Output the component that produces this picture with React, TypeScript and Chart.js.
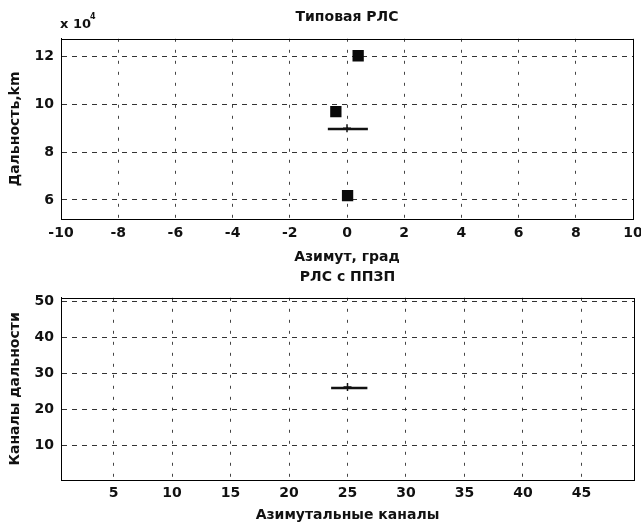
import React, { useEffect, useRef } from "react";
import { Chart, registerables } from "chart.js";

Chart.register(...registerables);

// ---------- Top plot: "Типовая РЛС" ----------
const TOP_TITLE = "Типовая РЛС";
const TOP_X_LABEL = "Азимут, град";
const TOP_Y_LABEL = "Дальность,km";
const TOP_X_TICKS = [-10, -8, -6, -4, -2, 0, 2, 4, 6, 8, 10];
const TOP_Y_TICKS = [60000, 80000, 100000, 120000];
const TOP_TARGET_AZ = [0.39, -0.39, 0.02];
const TOP_TARGET_RANGE = [120400, 97000, 61800];
const TOP_STREAK_AZ = [-0.67, 0.73];
const TOP_STREAK_RANGE = [89700, 89700];
const TOP_CENTER_AZ = [0.0];
const TOP_CENTER_RANGE = [90000];

// ---------- Bottom plot: "РЛС с ППЗП" ----------
const BOT_TITLE = "РЛС с ППЗП";
const BOT_X_LABEL = "Азимутальные каналы";
const BOT_Y_LABEL = "Каналы дальности";
const BOT_X_TICKS = [5, 10, 15, 20, 25, 30, 35, 40, 45];
const BOT_Y_TICKS = [10, 20, 30, 40, 50];
const BOT_STREAK_AZ = [23.6, 26.7];
const BOT_STREAK_RANGE = [26, 26];
const BOT_CENTER_AZ = [25];
const BOT_CENTER_RANGE = [26.3];

const FONT = "'DejaVu Sans', 'Liberation Sans', Arial, sans-serif";
const INK = "#111111";

const boxPlugin = {
  id: "box",
  afterDraw(chart: any) {
    const { ctx, chartArea } = chart;
    ctx.save();
    ctx.strokeStyle = "#000";
    ctx.lineWidth = 1;
    ctx.setLineDash([]);
    ctx.strokeRect(
      Math.round(chartArea.left) + 0.5,
      Math.round(chartArea.top) + 0.5,
      Math.round(chartArea.right - chartArea.left),
      Math.round(chartArea.bottom - chartArea.top)
    );
    const mult = chart.options.plugins.multiplier;
    if (mult && mult.show) {
      ctx.fillStyle = INK;
      ctx.font = `bold 13px ${FONT}`;
      ctx.textBaseline = "alphabetic";
      ctx.textAlign = "left";
      ctx.fillText("x 10", chartArea.left - 1, 28);
      ctx.font = `bold 8px ${FONT}`;
      ctx.fillText("4", chartArea.left + 29, 19);
    }
    ctx.restore();
  },
};

function pts(xs: number[], ys: number[]) {
  return xs.map((x, i) => ({ x, y: ys[i] }));
}

type Cfg = {
  title: string;
  titlePad: { top: number; bottom: number };
  xLabel: string;
  yLabel: string;
  xMin: number;
  xMax: number;
  yMin: number;
  yMax: number;
  xTicks: number[];
  yTicks: number[];
  xHeight: number;
  xTickPad: number;
  xTitlePadBottom: number;
  yFmt: (v: number) => string;
  datasets: any[];
  multiplier: boolean;
};

function makeConfig(c: Cfg): any {
  return {
    type: "scatter",
    data: { datasets: c.datasets },
    plugins: [boxPlugin],
    options: {
      animation: false,
      responsive: false,
      maintainAspectRatio: false,
      events: [],
      layout: { padding: { left: 0, right: 7, top: 0, bottom: 0 } },
      plugins: {
        legend: { display: false },
        tooltip: { enabled: false },
        multiplier: { show: c.multiplier },
        title: {
          display: true,
          fullSize: false,
          text: c.title,
          color: INK,
          font: { family: FONT, size: 14, weight: "bold", lineHeight: 1.2 },
          padding: c.titlePad,
        },
      },
      scales: {
        x: {
          type: "linear",
          min: c.xMin,
          max: c.xMax,
          afterBuildTicks: (s: any) => {
            s.ticks = c.xTicks.map((v) => ({ value: v }));
          },
          afterFit: (s: any) => {
            s.height = c.xHeight;
            s.paddingLeft = 0;
            s.paddingRight = 0;
          },
          ticks: {
            color: INK,
            font: { family: FONT, size: 14, weight: "bold" },
            padding: c.xTickPad,
            maxRotation: 0,
            autoSkip: false,
          },
          grid: { color: "#444", lineWidth: 1, drawTicks: false },
          border: { display: true, color: "#000", dash: [3, 8] },
          title: {
            display: true,
            text: c.xLabel,
            color: INK,
            font: { family: FONT, size: 14, weight: "bold", lineHeight: 1.2 },
            padding: { top: 0, bottom: c.xTitlePadBottom },
          },
        },
        y: {
          type: "linear",
          min: c.yMin,
          max: c.yMax,
          afterBuildTicks: (s: any) => {
            s.ticks = c.yTicks.map((v) => ({ value: v }));
          },
          afterFit: (s: any) => {
            s.width = 61;
            s.paddingTop = 0;
            s.paddingBottom = 0;
          },
          ticks: {
            color: INK,
            font: { family: FONT, size: 14, weight: "bold" },
            padding: 7,
            autoSkip: false,
            callback: (v: any) => c.yFmt(Number(v)),
          },
          grid: { color: "#333", lineWidth: 1, drawTicks: false },
          border: { display: true, color: "#000", dash: [5, 5] },
          title: {
            display: true,
            text: c.yLabel,
            color: INK,
            font: { family: FONT, size: 14, weight: "bold", lineHeight: 1.2 },
            padding: { top: 7, bottom: 0 },
          },
        },
      },
    },
  };
}

function ChartCanvas({ config, width, height, top }: { config: any; width: number; height: number; top: number }) {
  const ref = useRef<HTMLCanvasElement | null>(null);
  useEffect(() => {
    if (!ref.current) return;
    const chart = new Chart(ref.current, config);
    return () => chart.destroy();
  }, []);
  return (
    <canvas
      ref={ref}
      width={width}
      height={height}
      style={{ position: "absolute", left: 0, top, width, height }}
    />
  );
}

export default function App() {
  const topConfig = makeConfig({
    title: TOP_TITLE,
    titlePad: { top: 9, bottom: 13 },
    xLabel: TOP_X_LABEL,
    yLabel: TOP_Y_LABEL,
    xMin: -10,
    xMax: 10,
    yMin: 52000,
    yMax: 127500,
    xTicks: TOP_X_TICKS,
    yTicks: TOP_Y_TICKS,
    xHeight: 49,
    xTickPad: 6,
    xTitlePadBottom: 2,
    yFmt: (v) => String(Math.round(v / 10000)),
    multiplier: true,
    datasets: [
      {
        label: "Цели",
        data: pts(TOP_TARGET_AZ, TOP_TARGET_RANGE),
        pointStyle: "rect",
        pointRadius: 8,
        backgroundColor: "#0a0a0a",
        borderColor: "#0a0a0a",
        borderWidth: 0,
      },
      {
        label: "Отклик",
        type: "line",
        data: pts(TOP_STREAK_AZ, TOP_STREAK_RANGE),
        showLine: true,
        borderColor: "#111",
        borderWidth: 2.5,
        pointRadius: 0,
      },
      {
        label: "Центр",
        data: pts(TOP_CENTER_AZ, TOP_CENTER_RANGE),
        pointStyle: "cross",
        pointRadius: 4,
        borderColor: "#111",
        borderWidth: 1.5,
      },
    ],
  });

  const botConfig = makeConfig({
    title: BOT_TITLE,
    titlePad: { top: 1, bottom: 12 },
    xLabel: BOT_X_LABEL,
    yLabel: BOT_Y_LABEL,
    xMin: 0.5,
    xMax: 49.5,
    yMin: 0.5,
    yMax: 51,
    xTicks: BOT_X_TICKS,
    yTicks: BOT_Y_TICKS,
    xHeight: 44,
    xTickPad: 5,
    xTitlePadBottom: 0,
    yFmt: (v) => String(v),
    multiplier: false,
    datasets: [
      {
        label: "Отклик",
        type: "line",
        data: pts(BOT_STREAK_AZ, BOT_STREAK_RANGE),
        showLine: true,
        borderColor: "#111",
        borderWidth: 2.5,
        pointRadius: 0,
      },
      {
        label: "Центр",
        data: pts(BOT_CENTER_AZ, BOT_CENTER_RANGE),
        pointStyle: "cross",
        pointRadius: 4,
        borderColor: "#111",
        borderWidth: 1.5,
      },
    ],
  });

  return (
    <div style={{ position: "fixed", left: 0, top: 0, width: 641, height: 524, background: "#fff" }}>
      <ChartCanvas config={topConfig} width={641} height={268} top={0} />
      <ChartCanvas config={botConfig} width={641} height={256} top={268} />
    </div>
  );
}
